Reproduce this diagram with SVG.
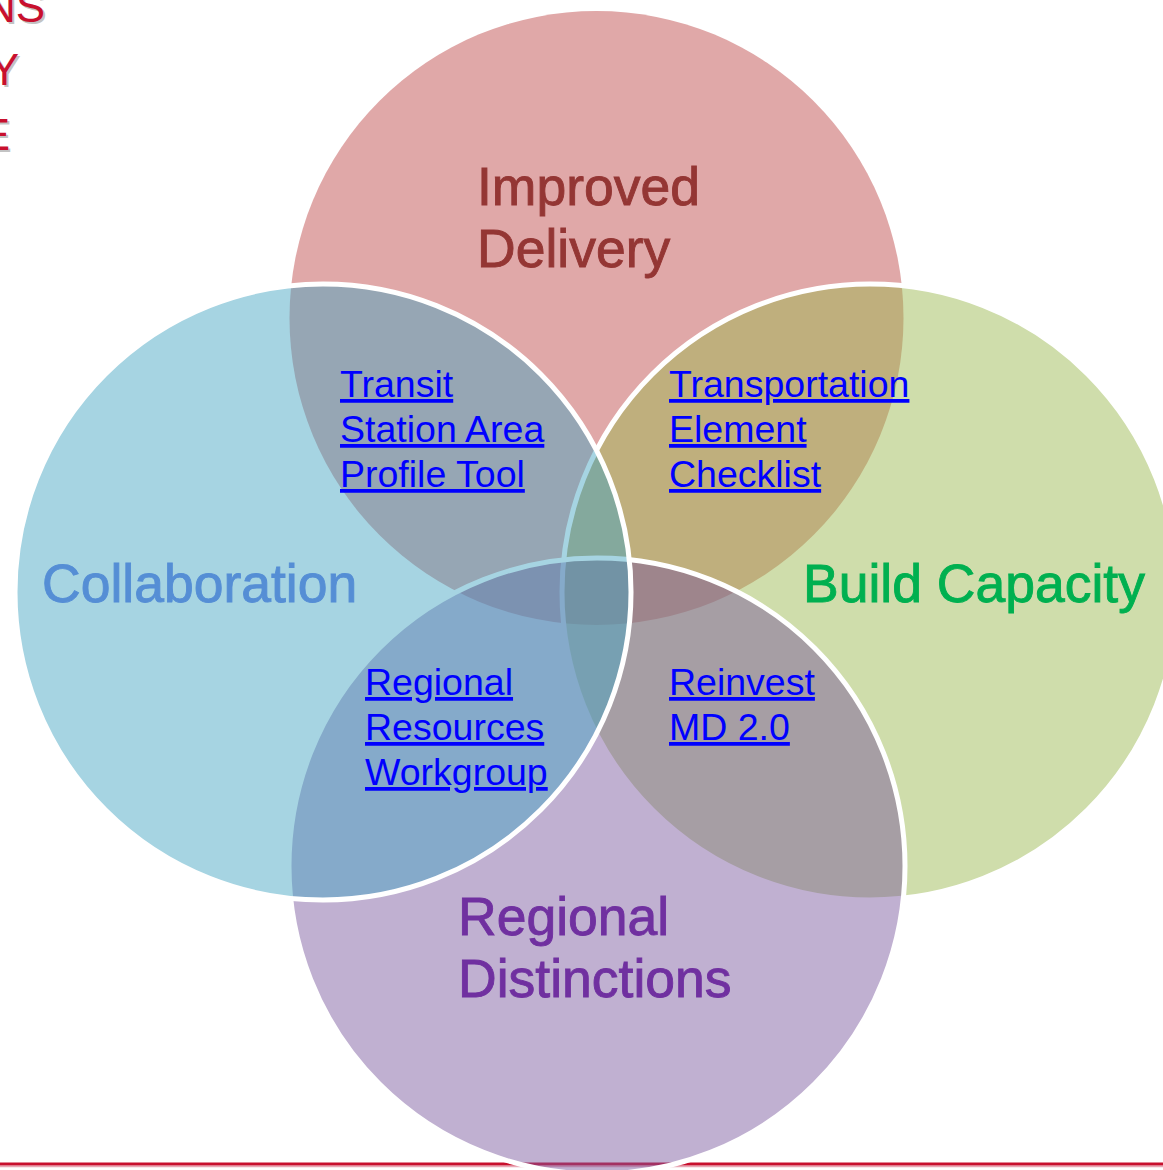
<svg xmlns="http://www.w3.org/2000/svg" width="1163" height="1170" viewBox="0 0 1163 1170">
  <style>
    .big { font-family: "Liberation Sans", Arial, sans-serif; font-size: 53.5px; stroke-width: 0.9; }
    .link { font-family: "Liberation Sans", Arial, sans-serif; font-size: 37.5px; fill: #0000FF; text-decoration: underline; }
    .corner { font-family: "Liberation Sans", Arial, sans-serif; font-size: 44px; fill: #C8102E; text-anchor: end; }
    .cshadow { font-family: "Liberation Sans", Arial, sans-serif; font-size: 44px; fill: #9a9a9a; fill-opacity: 0.6; text-anchor: end; }
    .ring { stroke: #FFFFFF; stroke-width: 5; fill-opacity: 0.47; }
  </style>
  <rect width="1163" height="1170" fill="#FFFFFF"/>
  <g id="corner-title">
    <text class="cshadow" x="47" y="24">NS</text>
    <text class="cshadow" x="21" y="87">Y</text>
    <text class="cshadow" x="12" y="152">E</text>
    <text class="corner" x="45" y="22">NS</text>
    <text class="corner" x="19" y="85">Y</text>
    <text class="corner" x="10" y="150">E</text>
  </g>
  <g id="bottom-rule">
    <line x1="0" y1="1166.5" x2="1163" y2="1166.5" stroke="#E8A7B5" stroke-width="1.5"/>
    <line x1="0" y1="1164" x2="1163" y2="1164" stroke="#C8102E" stroke-width="3"/>
  </g>
  <g id="improved-delivery">
    <circle cx="596.5" cy="318" r="307" fill="#E0A8A8"/>
  </g>
  <g id="build-capacity">
    <circle class="ring" cx="870" cy="592" r="308" fill="#99B74C"/>
  </g>
  <g id="regional-distinctions">
    <circle class="ring" cx="597" cy="866" r="308" fill="#7A589D"/>
  </g>
  <g id="collaboration">
    <circle class="ring" cx="323" cy="592" r="308" fill="#41A3C1"/>
  </g>
  <g id="labels">
    <text class="big" fill="#943634" stroke="#943634" x="477" y="205">Improved</text>
    <text class="big" fill="#943634" stroke="#943634" x="477" y="267">Delivery</text>
    <text class="big" fill="#558ED5" stroke="#558ED5" x="42" y="602">Collaboration</text>
    <text class="big" fill="#00B050" stroke="#00B050" x="803" y="602">Build Capacity</text>
    <text class="big" fill="#7030A0" stroke="#7030A0" x="458" y="935">Regional</text>
    <text class="big" fill="#7030A0" stroke="#7030A0" x="458" y="997">Distinctions</text>
  </g>
  <g id="transit-station-area-profile-tool">
    <text class="link" x="340" y="397">Transit</text>
    <text class="link" x="340" y="442">Station Area</text>
    <text class="link" x="340" y="487">Profile Tool</text>
  </g>
  <g id="transportation-element-checklist">
    <text class="link" x="669" y="397">Transportation</text>
    <text class="link" x="669" y="442">Element</text>
    <text class="link" x="669" y="487">Checklist</text>
  </g>
  <g id="regional-resources-workgroup">
    <text class="link" x="365" y="695">Regional</text>
    <text class="link" x="365" y="740">Resources</text>
    <text class="link" x="365" y="785">Workgroup</text>
  </g>
  <g id="reinvest-md">
    <text class="link" x="669" y="695">Reinvest</text>
    <text class="link" x="669" y="740">MD 2.0</text>
  </g>
</svg>
